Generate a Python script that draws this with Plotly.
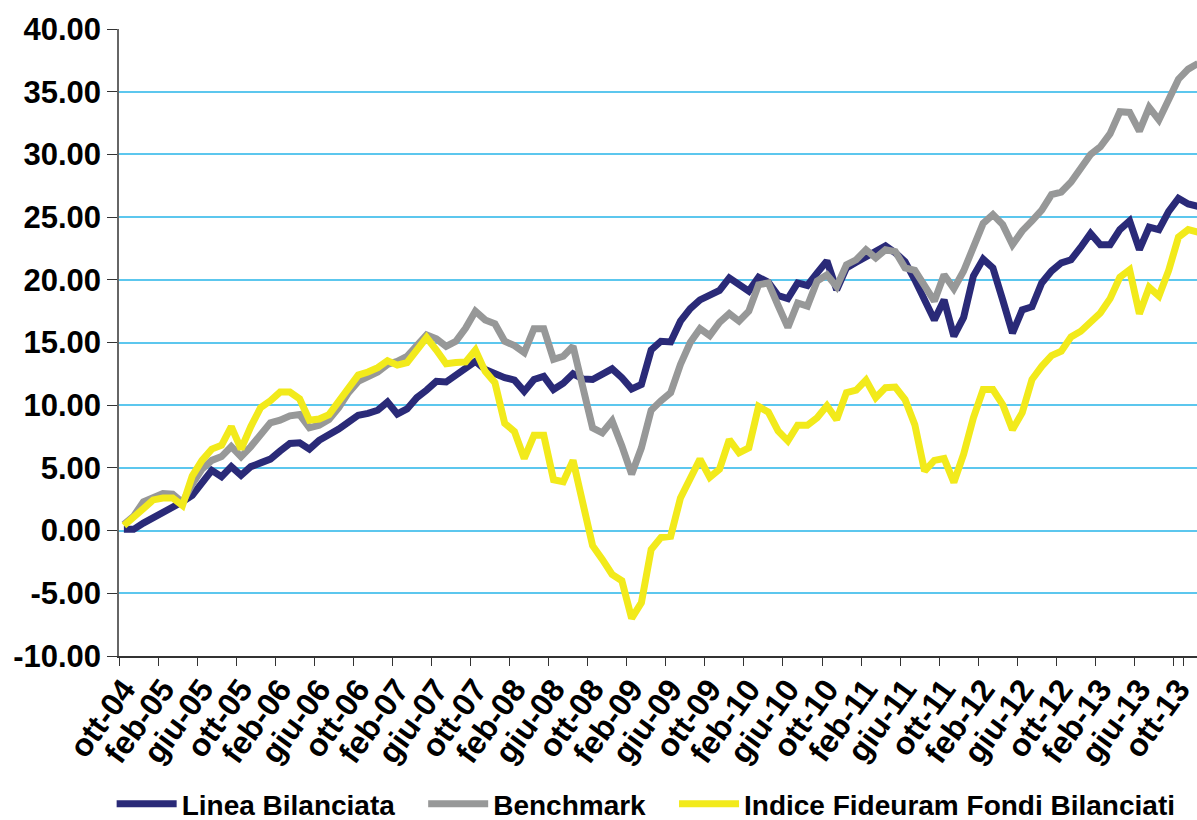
import plotly.graph_objects as go

# Month categories (Oct 2004 - Dec 2013)
month_names = ["gen", "feb", "mar", "apr", "mag", "giu", "lug", "ago", "set", "ott", "nov", "dic"]
months = []
for y in range(2004, 2014):
    for m in range(12):
        if (y == 2004 and m < 9):
            continue
        months.append(f"{month_names[m]}-{str(y)[2:]}")

tick_labels = ["ott-04", "feb-05", "giu-05", "ott-05", "feb-06", "giu-06", "ott-06", "feb-07",
               "giu-07", "ott-07", "feb-08", "giu-08", "ott-08", "feb-09", "giu-09", "ott-09",
               "feb-10", "giu-10", "ott-10", "feb-11", "giu-11", "ott-11", "feb-12", "giu-12",
               "ott-12", "feb-13", "giu-13", "ott-13"]

y_tick_vals = [-10, -5, 0, 5, 10, 15, 20, 25, 30, 35, 40]
y_tick_text = ["-10.00", "-5.00", "0.00", "5.00", "10.00", "15.00", "20.00", "25.00", "30.00", "35.00", "40.00"]

series_names = ["Linea Bilanciata", "Benchmark", "Indice Fideuram Fondi Bilanciati"]

linea_bilanciata = [
    0.1, 0.1, 0.6, 1.0, 1.5, 1.9, 2.3, 2.8, 3.7, 4.8, 4.3, 5.1, 4.4, 5.1, 5.4, 5.7, 6.35, 6.95, 7.0,
    6.5, 7.2, 7.6, 8.1, 8.65, 9.2, 9.35, 9.6, 10.25, 9.3, 9.7, 10.6, 11.2, 11.9, 11.85, 12.4, 13.0, 13.5,
    12.85, 12.5, 12.2, 12.0, 11.1, 12.05, 12.3, 11.25, 11.75, 12.5, 12.1, 12.05, 12.4, 12.9, 12.2, 11.3, 11.65, 14.4,
    15.1, 15.05, 16.7, 17.7, 18.4, 18.75, 19.15, 20.15, 19.7, 19.1, 20.2, 19.8, 18.75, 18.5, 19.75, 19.55, 20.55, 21.5,
    19.2, 20.95, 21.4, 21.8, 22.25, 22.7, 22.15, 21.45, 20.0, 18.4, 16.8, 18.4, 15.5, 17.0, 20.3, 21.65, 20.95, 18.4,
    15.75, 17.6, 17.85, 19.75, 20.7, 21.35, 21.6, 22.6, 23.7, 22.8, 22.8, 24.0, 24.7, 22.4, 24.2, 24.0, 25.45, 26.5, 26.05, 25.85,
]

benchmark = [
    0.5, 1.15, 2.3, 2.6, 2.95, 2.9, 2.25, 3.7, 4.9, 5.6, 5.9, 6.7, 5.9, 6.7, 7.65, 8.6, 8.8, 9.15, 9.25,
    8.2, 8.4, 8.85, 9.8, 11.0, 11.9, 12.25, 12.65, 13.25, 13.5, 13.9, 14.85, 15.6, 15.3, 14.7, 15.1, 16.15, 17.5,
    16.8, 16.5, 15.1, 14.75, 14.2, 16.1, 16.1, 13.65, 13.9, 14.7, 11.7, 8.2, 7.8, 8.75, 6.75, 4.5, 6.6, 9.6,
    10.35, 11.0, 13.25, 15.0, 16.1, 15.55, 16.6, 17.3, 16.7, 17.5, 19.6, 19.75, 17.95, 16.2, 18.15, 17.9, 19.9, 20.4,
    19.45, 21.2, 21.6, 22.4, 21.75, 22.4, 22.25, 20.95, 20.75, 19.55, 18.3, 20.4, 19.3, 20.7, 22.65, 24.5, 25.2, 24.4,
    22.8, 23.9, 24.7, 25.55, 26.8, 27.0, 27.8, 28.85, 30.0, 30.6, 31.65, 33.4, 33.35, 31.85, 33.75, 32.75, 34.4, 36.0, 36.8, 37.25,
]

indice_fideuram = [
    0.4, 1.0, 1.75, 2.45, 2.6, 2.6, 2.0, 4.35, 5.6, 6.5, 6.8, 8.3, 6.5, 8.3, 9.8, 10.35, 11.05, 11.05, 10.5,
    8.8, 8.9, 9.25, 10.35, 11.5, 12.4, 12.65, 13.0, 13.55, 13.2, 13.4, 14.45, 15.4, 14.4, 13.3, 13.4, 13.45, 14.4,
    12.7, 11.8, 8.55, 7.9, 5.75, 7.6, 7.6, 4.05, 3.9, 5.6, 2.0, -1.2, -2.3, -3.5, -4.0, -7.0, -5.75, -1.5,
    -0.55, -0.45, 2.6, 4.1, 5.7, 4.25, 4.9, 7.25, 6.2, 6.6, 9.9, 9.45, 7.95, 7.15, 8.4, 8.4, 9.0, 9.95,
    8.85, 11.0, 11.2, 12.0, 10.6, 11.4, 11.45, 10.45, 8.45, 4.75, 5.6, 5.75, 3.85, 6.1, 9.0, 11.25, 11.25, 10.05,
    8.05, 9.4, 12.05, 13.1, 13.95, 14.3, 15.45, 15.9, 16.7, 17.35, 18.5, 20.2, 20.8, 17.3, 19.4, 18.7, 20.75, 23.4, 24.0, 23.8,
]

FONT = "Liberation Sans, Arial, sans-serif"
GAP = "\u00a0\u00a0\u00a0"

fig = go.Figure()
fig.add_trace(go.Scatter(x=months, y=linea_bilanciata, mode="lines", name=series_names[0] + GAP,
                         line=dict(color="#2A2A78", width=7)))
fig.add_trace(go.Scatter(x=months, y=benchmark, mode="lines", name=series_names[1] + GAP,
                         line=dict(color="#979898", width=7)))
fig.add_trace(go.Scatter(x=months, y=indice_fideuram, mode="lines", name=series_names[2],
                         line=dict(color="#F2EA1B", width=7)))

fig.update_layout(
    width=1197, height=829,
    margin=dict(l=119, r=0, t=29, b=165),
    paper_bgcolor="white", plot_bgcolor="white",
    font=dict(family=FONT, color="black"),
    showlegend=True,
    legend=dict(orientation="h", x=0.489, xanchor="center", y=-0.236, yanchor="middle",
                font=dict(family=FONT, size=28, weight="bold", color="black"),
                itemwidth=60, tracegroupgap=0),
)
fig.update_xaxes(
    type="category", categoryorder="array", categoryarray=months,
    tickmode="array", tickvals=tick_labels, ticktext=tick_labels,
    tickson="boundaries", tickangle=-54,
    range=[-0.5, 109.9], showgrid=False, zeroline=False,
    showline=True, linecolor="#333333", linewidth=1.5,
    ticks="outside", ticklen=8, tickcolor="#333333", tickwidth=1.2,
    tickfont=dict(family=FONT, size=32, weight="bold", color="black"),
    automargin=False,
)
fig.update_yaxes(
    range=[-10, 40], tickmode="array", tickvals=y_tick_vals, ticktext=y_tick_text,
    showgrid=True, gridcolor="#5CC7EE", gridwidth=1.5, zeroline=False,
    showline=True, linecolor="#666666", linewidth=1.5,
    ticks="outside", ticklen=10, tickcolor="#333333", tickwidth=1.2,
    tickfont=dict(family=FONT, size=31, weight="bold", color="black"),
    automargin=False,
)

# remove the browser's default page margin so the figure fills the window exactly
page_fix = (
    "document.documentElement.style.margin='0px';"
    "document.body.style.margin='0px';"
    "document.body.style.overflow='hidden';"
)
fig.write_html("out.html", config={"displayModeBar": False}, post_script=page_fix)
